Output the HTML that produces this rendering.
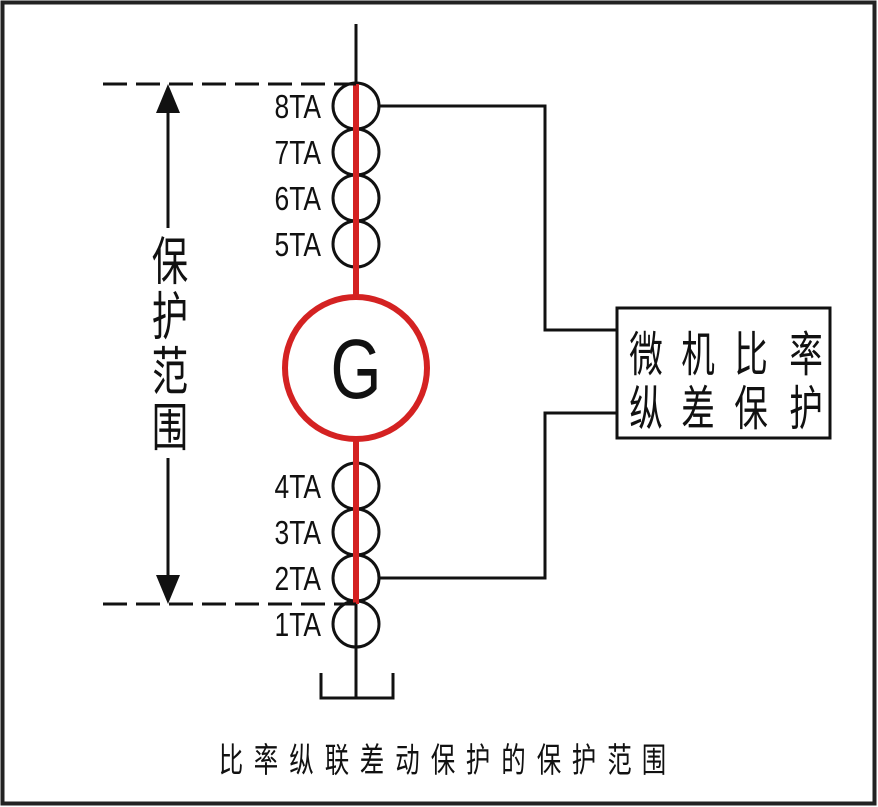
<!DOCTYPE html>
<html><head><meta charset="utf-8"><style>
html,body{margin:0;padding:0;background:#fff}
svg{display:block}
text{font-family:"Liberation Sans","Noto Sans CJK SC",sans-serif;fill:#111}
</style></head><body>
<svg width="878" height="807" viewBox="0 0 878 807" xmlns="http://www.w3.org/2000/svg">
<rect x="2.5" y="2.5" width="872" height="801" fill="none" stroke="#222" stroke-width="4"/>
<line x1="356" y1="24" x2="356" y2="698" stroke="#111" stroke-width="3"/>
<polyline points="321,673 321,698 393,698 393,673" fill="none" stroke="#111" stroke-width="3"/>
<g fill="none" stroke="#111" stroke-width="3">
<ellipse cx="356" cy="106" rx="23" ry="23"/>
<ellipse cx="356" cy="152" rx="23" ry="23"/>
<ellipse cx="356" cy="198" rx="23" ry="23"/>
<ellipse cx="356" cy="244" rx="23" ry="23"/>
<ellipse cx="356" cy="486" rx="23" ry="23"/>
<ellipse cx="356" cy="532" rx="23" ry="23"/>
<ellipse cx="356" cy="578" rx="23" ry="23"/>
<ellipse cx="356" cy="624" rx="23" ry="23"/>
</g>
<line x1="356" y1="84" x2="356" y2="300" stroke="#d42222" stroke-width="6"/>
<line x1="356" y1="436" x2="356" y2="604" stroke="#d42222" stroke-width="6"/>
<circle cx="356" cy="368" r="71" fill="#fff" stroke="#d42222" stroke-width="6"/>
<text font-size="84" text-anchor="middle" transform="translate(356 398) scale(0.78 1)">G</text>
<g font-size="33" text-anchor="end">
<text transform="translate(321 118) scale(0.8 1)">8TA</text>
<text transform="translate(321 164) scale(0.8 1)">7TA</text>
<text transform="translate(321 210) scale(0.8 1)">6TA</text>
<text transform="translate(321 256) scale(0.8 1)">5TA</text>
<text transform="translate(321 498) scale(0.8 1)">4TA</text>
<text transform="translate(321 544) scale(0.8 1)">3TA</text>
<text transform="translate(321 590) scale(0.8 1)">2TA</text>
<text transform="translate(321 636) scale(0.8 1)">1TA</text>
</g>
<line x1="103" y1="84" x2="356" y2="84" stroke="#111" stroke-width="3" stroke-dasharray="24 9"/>
<line x1="103" y1="604" x2="356" y2="604" stroke="#111" stroke-width="3" stroke-dasharray="24 9"/>
<line x1="168" y1="105" x2="168" y2="583" stroke="#111" stroke-width="3"/>
<polygon points="168,84 156,113 180,113" fill="#111"/>
<polygon points="168,604 156,575 180,575" fill="#111"/>
<rect x="148" y="228" width="42" height="230" fill="#fff"/>
<g font-size="52" text-anchor="middle">
<text transform="translate(170 280) scale(0.7 1)">保</text>
<text transform="translate(170 335) scale(0.7 1)">护</text>
<text transform="translate(170 390) scale(0.7 1)">范</text>
<text transform="translate(170 446) scale(0.7 1)">围</text>
</g>
<polyline points="380,106 545,106 545,330 617,330" fill="none" stroke="#111" stroke-width="3"/>
<polyline points="380,578 545,578 545,413 617,413" fill="none" stroke="#111" stroke-width="3"/>
<rect x="617" y="308" width="213" height="130" fill="#fff" stroke="#111" stroke-width="3"/>
<g font-size="48" text-anchor="middle">
<text transform="translate(646 371) scale(0.7 1)">微</text>
<text transform="translate(698 371) scale(0.7 1)">机</text>
<text transform="translate(751 371) scale(0.7 1)">比</text>
<text transform="translate(806 371) scale(0.7 1)">率</text>
<text transform="translate(646 425) scale(0.7 1)">纵</text>
<text transform="translate(698 425) scale(0.7 1)">差</text>
<text transform="translate(751 425) scale(0.7 1)">保</text>
<text transform="translate(806 425) scale(0.7 1)">护</text>
</g>
<g font-size="34" text-anchor="middle">
<text transform="translate(231 772) scale(0.72 1)">比</text>
<text transform="translate(266 772) scale(0.72 1)">率</text>
<text transform="translate(301.5 772) scale(0.72 1)">纵</text>
<text transform="translate(337 772) scale(0.72 1)">联</text>
<text transform="translate(372 772) scale(0.72 1)">差</text>
<text transform="translate(407.5 772) scale(0.72 1)">动</text>
<text transform="translate(443 772) scale(0.72 1)">保</text>
<text transform="translate(478 772) scale(0.72 1)">护</text>
<text transform="translate(513.5 772) scale(0.72 1)">的</text>
<text transform="translate(549 772) scale(0.72 1)">保</text>
<text transform="translate(584 772) scale(0.72 1)">护</text>
<text transform="translate(619.5 772) scale(0.72 1)">范</text>
<text transform="translate(654 772) scale(0.72 1)">围</text>
</g>
</svg>
</body></html>
